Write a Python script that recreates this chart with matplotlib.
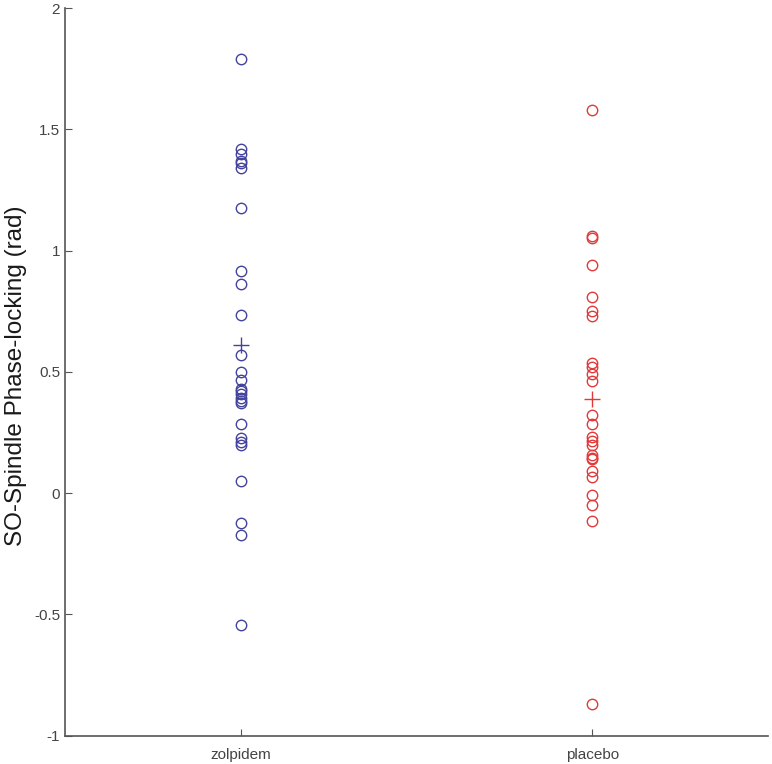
import numpy as np
import matplotlib
matplotlib.use("Agg")
import matplotlib.pyplot as plt

plt.rcParams["font.family"] = ["Liberation Sans", "DejaVu Sans"]

groups = ["zolpidem", "placebo"]
zolpidem = [1.79, 1.42, 1.40, 1.37, 1.36, 1.34, 1.175, 0.915, 0.86, 0.735,
            0.57, 0.50, 0.465, 0.43, 0.42, 0.41, 0.39, 0.38, 0.37, 0.285,
            0.225, 0.21, 0.20, 0.05, -0.125, -0.175, -0.545]
placebo = [1.58, 1.06, 1.05, 0.94, 0.81, 0.75, 0.73, 0.535, 0.52, 0.49,
           0.46, 0.32, 0.285, 0.23, 0.215, 0.20, 0.155, 0.145, 0.14, 0.09,
           0.065, -0.01, -0.05, -0.115, -0.87]
colors = ["#43439e", "#e03a3a"]

fig = plt.figure(figsize=(7.72, 7.64), dpi=100)
ax = fig.add_axes([0.0842, 0.0373, 0.9106, 0.9522])

for i, (vals, c) in enumerate(zip([zolpidem, placebo], colors)):
    x = np.full(len(vals), i + 1)
    ax.plot(x, vals, "o", mfc="none", mec=c, ms=7.5, mew=1.0)
    ax.plot(i + 1, np.mean(vals), "+", color=c, ms=12, mew=1.0)

ax.set_xlim(0.5, 2.5)
ax.set_ylim(-1, 2)
ax.set_xticks([1, 2])
ax.set_xticklabels(groups)
ax.set_yticks([-1, -0.5, 0, 0.5, 1, 1.5, 2])
ax.set_yticklabels(["-1", "-0.5", "0", "0.5", "1", "1.5", "2"])
ax.set_ylabel("SO-Spindle Phase-locking (rad)", fontsize=17.5, color="#1a1a1a",
              va="center")
ax.yaxis.set_label_coords(-0.069, 0.495)

for s in ["top", "right"]:
    ax.spines[s].set_visible(False)
for s in ["left", "bottom"]:
    ax.spines[s].set_color("#555555")
    ax.spines[s].set_linewidth(1.2)
ax.tick_params(direction="in", length=5, colors="#555555", labelsize=11,
               labelcolor="#444444")
ax.tick_params(axis="x", pad=9)

fig.savefig("out.png", dpi=100)
